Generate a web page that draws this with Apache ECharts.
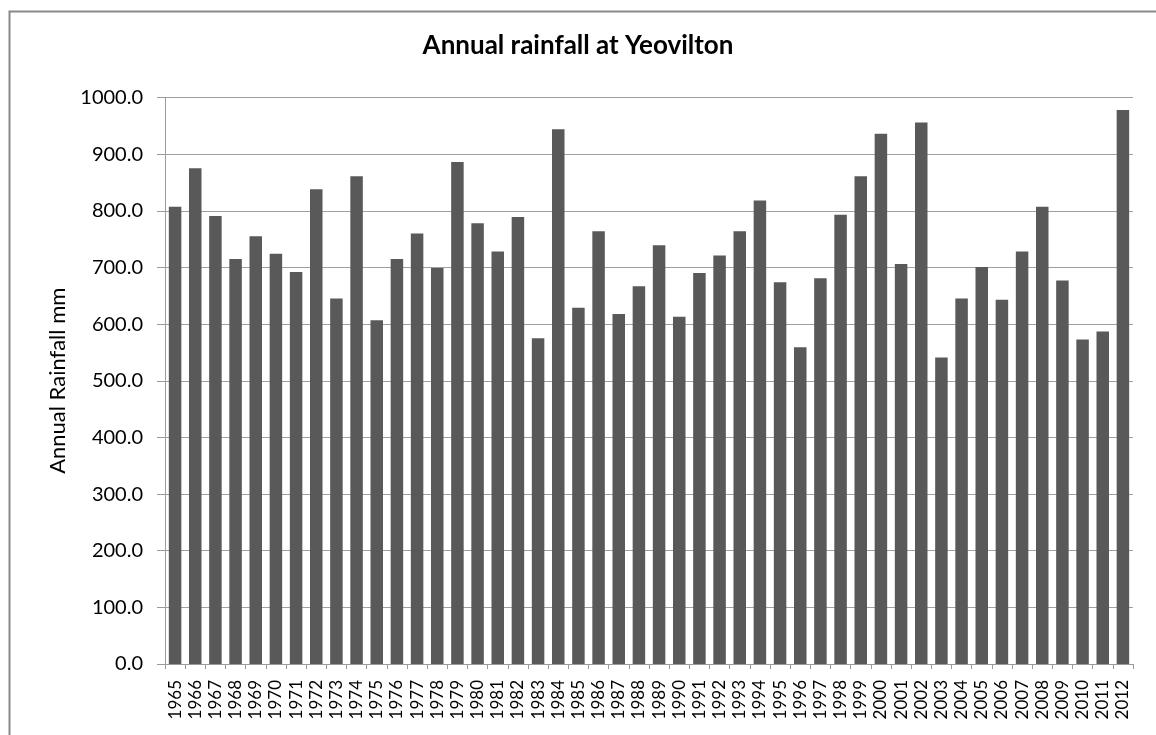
<!DOCTYPE html>
<html>
<head>
<meta charset="utf-8">
<script src="https://cdn.jsdelivr.net/npm/echarts@6/dist/echarts.min.js"></script>
<style>
  html, body { margin: 0; padding: 0; background: #fff; }
  #charts { width: 1156px; height: 735px; }
</style>
</head>
<body>
<div id="charts"></div>
<script>
    var years = ['1965','1966','1967','1968','1969','1970','1971','1972','1973','1974',
        '1975','1976','1977','1978','1979','1980','1981','1982','1983','1984',
        '1985','1986','1987','1988','1989','1990','1991','1992','1993','1994',
        '1995','1996','1997','1998','1999','2000','2001','2002','2003','2004',
        '2005','2006','2007','2008','2009','2010','2011','2012'];
    var rainfall = [807, 875, 791, 715, 755, 724, 692, 838, 645, 861,
        607, 715, 760, 699, 886, 778, 728, 789, 575, 944,
        629, 764, 618, 667, 739, 613, 690, 721, 764, 818,
        674, 559, 681, 793, 861, 936, 706, 956, 541, 645,
        701, 643, 728, 807, 677, 573, 587, 978];
    var titleText = 'Annual rainfall at Yeovilton';
    var yName = 'Annual Rainfall mm';

    var font = 'Lato, "Open Sans", sans-serif';
    var myChart = echarts.init(document.getElementById('charts'));

    myChart.setOption({
        animation: false,
        backgroundColor: '#fff',
        graphic: [{
            type: 'rect',
            left: 7,
            top: 9,
            shape: { width: 1170, height: 750 },
            style: { fill: 'none', stroke: '#898989', lineWidth: 2 },
            silent: true
        }],
        title: {
            text: titleText,
            left: 'center',
            top: 33,
            padding: 0,
            textStyle: {
                fontFamily: font,
                fontSize: 26,
                fontWeight: 'bold',
                color: '#000'
            }
        },
        grid: {
            left: 165,
            right: 23,
            top: 97.5,
            bottom: 71,
            containLabel: false
        },
        xAxis: {
            type: 'category',
            data: years,
            boundaryGap: true,
            axisLine: { lineStyle: { color: '#9a9a9a', width: 1 } },
            axisTick: { show: true, length: 5, lineStyle: { color: '#9a9a9a' } },
            axisLabel: {
                interval: 0,
                rotate: 90,
                margin: 16,
                fontFamily: font,
                fontSize: 17,
                color: '#000'
            }
        },
        yAxis: {
            type: 'value',
            min: 0,
            max: 1000,
            interval: 100,
            name: yName,
            nameLocation: 'middle',
            nameRotate: 90,
            nameGap: 95,
            nameTextStyle: {
                fontFamily: font,
                fontSize: 22,
                color: '#000'
            },
            axisLine: { show: true, lineStyle: { color: '#9a9a9a', width: 1 } },
            axisTick: { show: true, length: 8, lineStyle: { color: '#9a9a9a' } },
            axisLabel: {
                margin: 22,
                fontFamily: font,
                fontSize: 20,
                color: '#000',
                formatter: function (v) { return v.toFixed(1); }
            },
            splitLine: { show: true, lineStyle: { color: '#a0a0a0', width: 1 } }
        },
        series: [{
            name: 'rainfall',
            type: 'bar',
            data: rainfall,
            barCategoryGap: '38%',
            itemStyle: { color: '#595959' }
        }]
    });
</script>
</body>
</html>
